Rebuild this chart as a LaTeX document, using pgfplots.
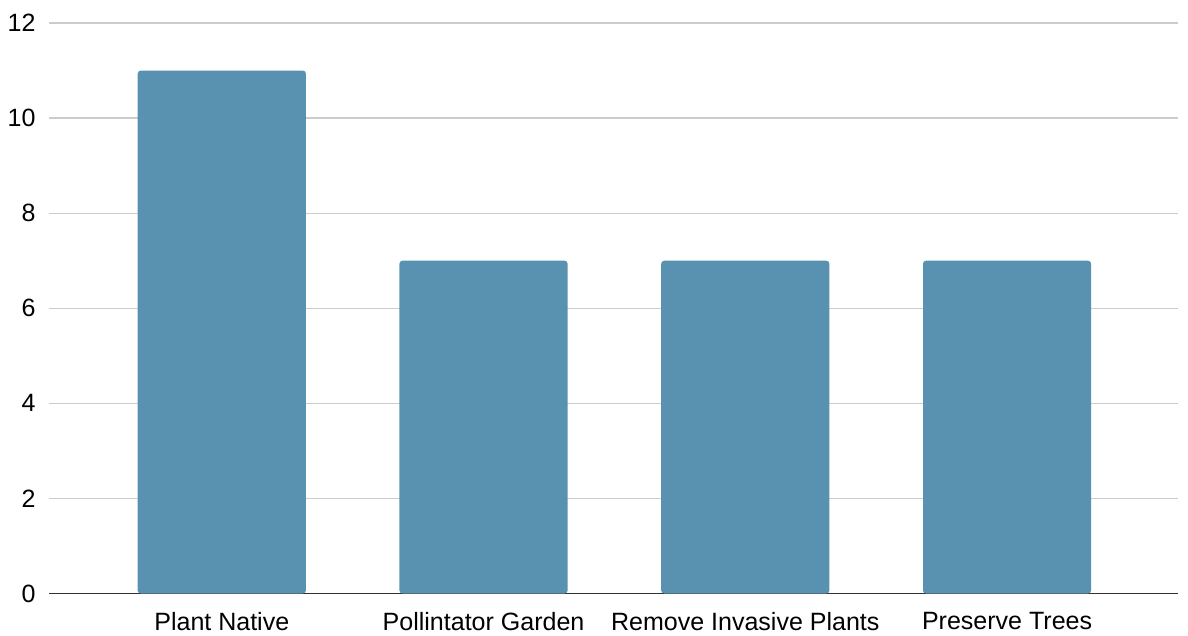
\documentclass[border=0pt]{standalone}
\usepackage{fontspec}
\setmainfont{Liberation Sans}
\usepackage{pgfplots}
\pgfplotsset{compat=1.18}
\definecolor{barblue}{RGB}{89,146,176}
\definecolor{gridgray}{RGB}{204,204,204}
\begin{document}
\begin{tikzpicture}
\begin{axis}[
  scale only axis,
  width=1128bp, height=570bp,
  xmin=-0.66, xmax=3.653,
  ymin=0, ymax=12,
  ytick={0,2,4,6,8,10,12},
  xtick={0,1,2,3},
  xticklabels={Plant Native, Pollintator Garden, Remove Invasive Plants, Preserve Trees},
  axis x line*=bottom,
  axis y line*=left,
  y axis line style={draw=none},
  x axis line style={draw=black!80, line width=1.4bp},
  tick style={draw=none},
  ymajorgrids,
  grid style={gridgray, line width=1.2bp},
  font=\fontsize{25bp}{29bp}\selectfont,
  /pgf/number format/assume math mode=true,
  yticklabel style={anchor=east, xshift=-10bp},
  xticklabel style={anchor=north, yshift=-15bp},
  clip=false,
]
\addplot[ybar, bar width=168bp, fill=barblue, draw=none, rounded corners=3bp] coordinates {(0,11) (1,7) (2,7) (3,7)};
\coordinate (bl) at (rel axis cs:0,0);
\coordinate (tr) at (rel axis cs:1,1);
\end{axis}
\path ([shift={(-49bp,-42bp)}]bl) rectangle ([shift={(10bp,23bp)}]tr);
\end{tikzpicture}
\end{document}
